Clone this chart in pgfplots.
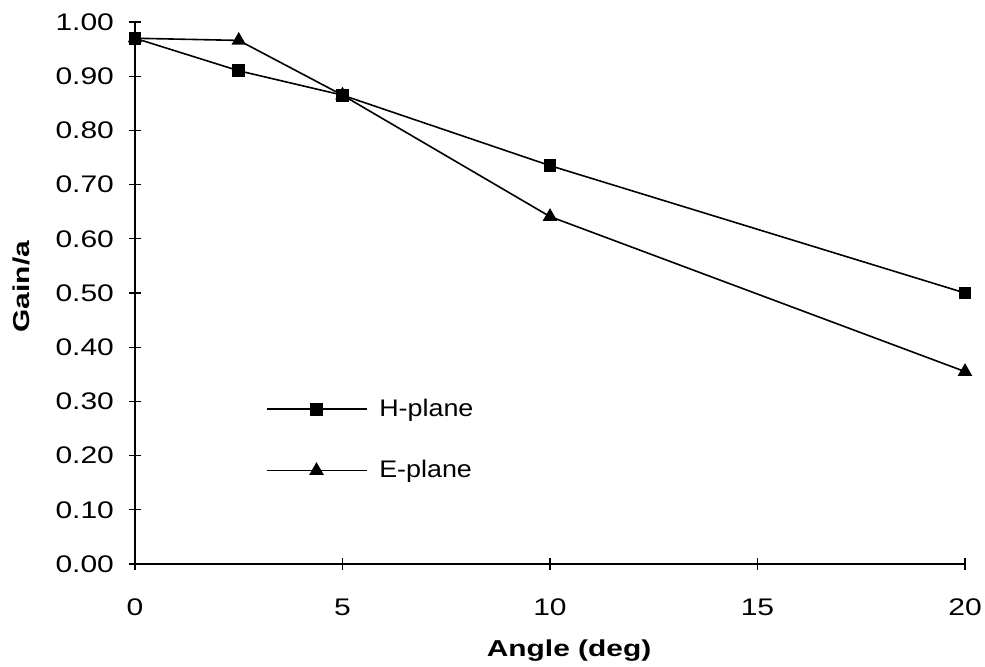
\documentclass[border=0pt]{standalone}
\usepackage{pgfplots}
\pgfplotsset{compat=1.18}
\usepackage{fontspec}
\setmainfont[FakeStretch=1.25]{Liberation Sans}
\newfontfamily\legfont[FakeStretch=1.12]{Liberation Sans}
\newfontfamily\labfont[FakeStretch=1.3]{Liberation Sans}
\begin{document}
\begin{tikzpicture}
\path[use as bounding box] (-67.5pt,-51.5pt) rectangle (425pt,282pt);
\begin{axis}[
  at={(0,0)}, anchor=south west,
  scale only axis, width=415pt, height=271pt,
  xmin=0, xmax=20, ymin=0, ymax=1,
  axis x line=bottom, axis y line=left,
  axis line style={-, line width=0.7pt},
  xtick={0,5,10,15,20},
  ytick={0,0.1,...,1.0},
  tick align=center, major tick length=6pt,
  tick style={line width=0.6pt, black},
  yticklabel style={/pgf/number format/fixed, /pgf/number format/fixed zerofill, /pgf/number format/precision=2, xshift=-4pt},
  /pgf/number format/assume math mode=true,
  ticklabel style={font=\fontsize{12}{14}\selectfont},
  xticklabel style={yshift=-11pt},
  xlabel={\textbf{Angle (deg)}},
  ylabel={\textbf{Gain/a}},
  label style={font=\labfont\fontsize{11.5}{14}\selectfont},
  xlabel style={at={(axis description cs:0.523,-0.159)}, anchor=center},
  ylabel style={at={(axis description cs:-0.137,0.512)}, anchor=center},
  legend style={draw=none, fill=none, at={(rel axis cs:0.157,0.229)}, anchor=west,
    font=\legfont\fontsize{12}{14}\selectfont, row sep=16.5pt, inner sep=0pt, column sep=4pt},
  legend cell align=left,
  legend image code/.code={
    \draw[#1, mark=none] (0pt,0pt) -- (50pt,0pt);
    \draw[#1, only marks] plot coordinates {(25pt,0pt)};
  },
  clip=false,
]
\addplot[black, line width=0.8pt, mark=square*, mark size=2.8pt] coordinates {
  (0,0.970) (2.5,0.910) (5,0.865) (10,0.735) (20,0.500)
};
\addlegendentry{H-plane}
\addplot[black, line width=0.8pt, mark=triangle*, mark size=3.4pt] coordinates {
  (0,0.970) (2.5,0.966) (5,0.865) (10,0.641) (20,0.355)
};
\addlegendentry{E-plane}
\end{axis}
\end{tikzpicture}
\end{document}
